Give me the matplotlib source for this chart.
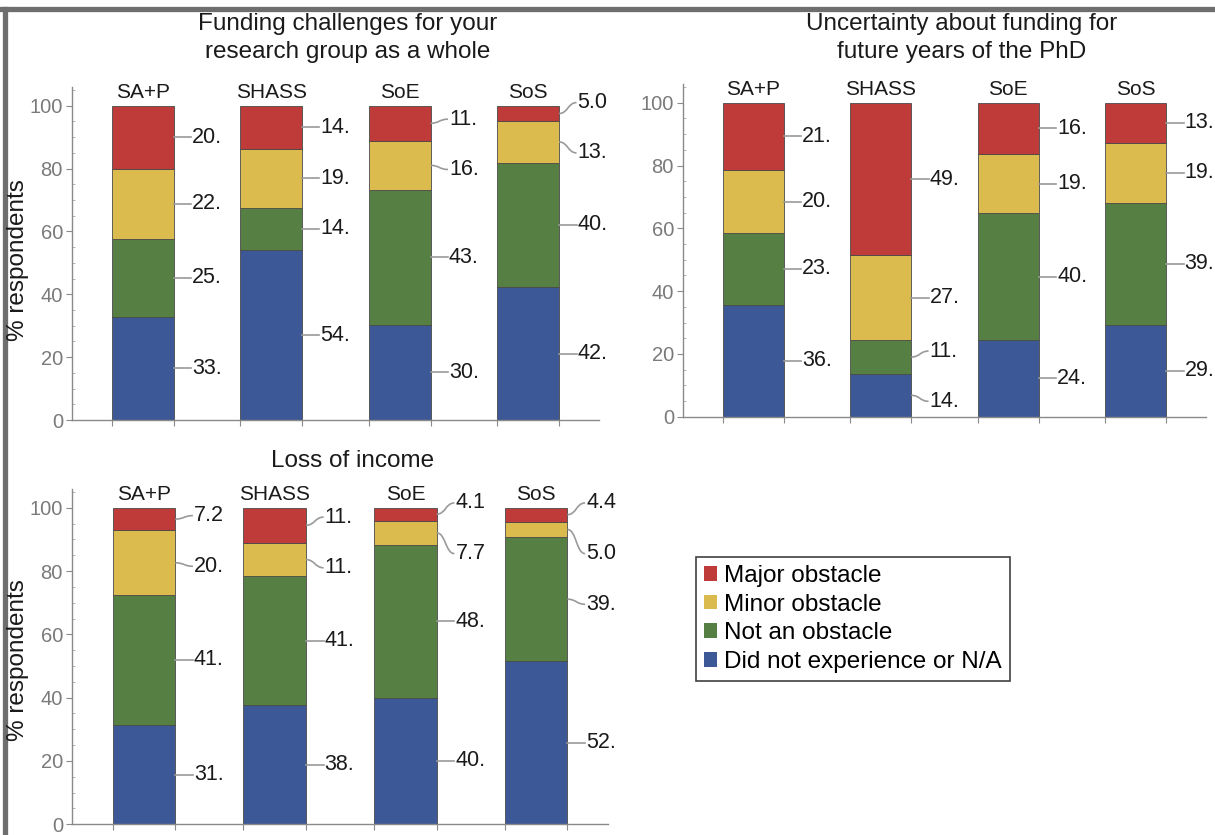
import numpy as np
import matplotlib
matplotlib.use("Agg")
import matplotlib.pyplot as plt
from matplotlib.patches import Patch, PathPatch
from matplotlib.path import Path
from matplotlib.lines import Line2D
from matplotlib.ticker import MultipleLocator

plt.rcParams['font.family'] = ['Liberation Sans', 'DejaVu Sans']

# data (percent of respondents)
schools = ["SA+P", "SHASS", "SoE", "SoS"]
categories = ["Major obstacle", "Minor obstacle", "Not an obstacle", "Did not experience or N/A"]
colors = ["#bf3b3a", "#dbba4e", "#557f43", "#3d5896"]

funding_major = [20.1, 13.8, 11.2, 5.0]
funding_minor = [22.3, 18.6, 15.6, 13.1]
funding_not = [24.7, 13.6, 42.9, 39.7]
funding_na = [32.9, 54.0, 30.3, 42.2]

uncertain_major = [21.4, 48.6, 16.4, 12.7]
uncertain_minor = [20.2, 27.0, 18.8, 19.1]
uncertain_not = [22.7, 10.8, 40.4, 38.9]
uncertain_na = [35.7, 13.6, 24.4, 29.3]

loss_major = [7.2, 11.1, 4.1, 4.4]
loss_minor = [20.4, 10.6, 7.7, 5.0]
loss_not = [41.0, 40.7, 48.2, 39.0]
loss_na = [31.4, 37.6, 40.0, 51.6]

W, H = 1215, 835
fig = plt.figure(figsize=(W / 100, H / 100), dpi=100)

BAR_W = 0.48
GRAY = "#8a8a8a"


def add_px_axes(left, top, right, bottom):
    return fig.add_axes([left / W, 1 - bottom / H, (right - left) / W, (bottom - top) / H])


def fmt(v):
    return f"{v:.0f}." if v >= 10 else f"{v:.1f}"


def spread(mids, gap=16.0, top=101.5):
    # push apart labels that would overlap, keeping groups centred on their segments
    groups = [[i] for i in range(len(mids))]

    def place(g):
        c = np.mean([mids[i] for i in g])
        pos = [c + (k - (len(g) - 1) / 2) * gap for k in range(len(g))]
        if pos[-1] > top:
            pos = [p - (pos[-1] - top) for p in pos]
        return pos

    changed = True
    while changed:
        changed = False
        for j in range(len(groups) - 1):
            lo, hi = place(groups[j]), place(groups[j + 1])
            if hi[0] - lo[-1] < gap - 1e-6:
                groups[j] = groups[j] + groups[j + 1]
                del groups[j + 1]
                changed = True
                break
    out = []
    for g in groups:
        out += place(g)
    return out


def panel(ax, series):
    x = np.arange(len(schools))
    bottom = np.zeros(len(schools))
    stack = list(zip(series[::-1], colors[::-1]))  # bottom to top
    for vals, c in stack:
        ax.bar(x, vals, BAR_W, bottom=bottom, color=c, edgecolor="#4a4a4a", linewidth=0.6, zorder=2)
        bottom = bottom + np.array(vals)

    for i in x:
        segs = [vals[i] for vals, _ in stack]
        mids = list(np.cumsum(segs) - np.array(segs) / 2)
        labs = spread(mids)
        x0 = i + BAR_W / 2
        d = 0.135
        for v, ym, yl in zip(segs, mids, labs):
            if abs(yl - ym) < 0.3:
                ax.plot([x0, x0 + d], [ym, ym], color="#9a9a9a", lw=1.2, clip_on=False, zorder=3)
            else:
                verts = [(x0, ym), (x0 + d * 0.5, ym), (x0 + d * 0.5, yl), (x0 + d, yl)]
                p = Path(verts, [Path.MOVETO, Path.CURVE4, Path.CURVE4, Path.CURVE4])
                ax.add_patch(PathPatch(p, fc="none", ec="#9a9a9a", lw=1.2, clip_on=False, zorder=3))
            ax.text(x0 + d + 0.008, yl, fmt(v), ha="left", va="center", fontsize=15.5, color="#1a1a1a")
        ax.annotate(schools[i], (i, 100), xytext=(0, 5.5), textcoords="offset points",
                    ha="center", va="baseline", fontsize=15, color="#1a1a1a")

    ax.set_xlim(-0.55, 3.55)
    ax.set_ylim(0, 106)
    for s in ["top", "right"]:
        ax.spines[s].set_visible(False)
    for s in ["left", "bottom"]:
        ax.spines[s].set_color(GRAY)
        ax.spines[s].set_linewidth(1.0)
    ax.set_yticks(range(0, 101, 20))
    ax.yaxis.set_minor_locator(MultipleLocator(5))
    ax.tick_params(axis="y", which="major", direction="out", length=4.5, width=0.8,
                   color=GRAY, labelcolor="#7a7a7a", labelsize=14.5, pad=2)
    ax.tick_params(axis="y", which="minor", direction="in", length=2.5, width=0.6, color="#aaaaaa")
    edges = sorted([i - BAR_W / 2 for i in x] + [i + BAR_W / 2 for i in x])
    ax.set_xticks(edges)
    ax.set_xticklabels([])
    ax.tick_params(axis="x", which="major", direction="out", length=4.5, width=0.8, color=GRAY)
    ax.set_facecolor("none")


ax1 = add_px_axes(72, 86.8, 599, 420)
panel(ax1, [funding_major, funding_minor, funding_not, funding_na])
ax2 = add_px_axes(683, 83.9, 1206, 416.7)
panel(ax2, [uncertain_major, uncertain_minor, uncertain_not, uncertain_na])
ax3 = add_px_axes(72, 488.7, 608, 824.3)
panel(ax3, [loss_major, loss_minor, loss_not, loss_na])

# titles and axis labels
fig.text(348 / W, 1 - 38 / H, "Funding challenges for your\nresearch group as a whole",
         ha="center", va="center", fontsize=17.5, linespacing=1.32, color="#1a1a1a")
fig.text(962 / W, 1 - 38 / H, "Uncertainty about funding for\nfuture years of the PhD",
         ha="center", va="center", fontsize=17.5, linespacing=1.32, color="#1a1a1a")
fig.text(353 / W, 1 - 461 / H, "Loss of income",
         ha="center", va="center", fontsize=17.5, color="#1a1a1a")
for yc in (260, 660):
    fig.text(18 / W, 1 - yc / H, "% respondents", rotation=90,
             ha="center", va="center", fontsize=17.5, color="#1a1a1a")

handles = [Patch(facecolor=c, edgecolor="none") for c in colors]
leg = fig.legend(handles, categories, loc="upper left",
                 bbox_to_anchor=(696 / W, 1 - 557 / H), borderaxespad=0,
                 fontsize=17.5, frameon=True, fancybox=False, handlelength=0.55,
                 handleheight=0.55, handletextpad=0.3, labelspacing=0.28, borderpad=0.32)
leg.get_frame().set_edgecolor("#111111")
leg.get_frame().set_linewidth(1.2)

# outer frame (top and left edges of the panel border)
fig.add_artist(Line2D([0, 1], [1 - 8.5 / H, 1 - 8.5 / H], color="#6e6e6e", lw=3.8))
fig.add_artist(Line2D([4.5 / W, 4.5 / W], [0, 1 - 8.5 / H], color="#6e6e6e", lw=3.8))

fig.savefig("out.png", dpi=100)
